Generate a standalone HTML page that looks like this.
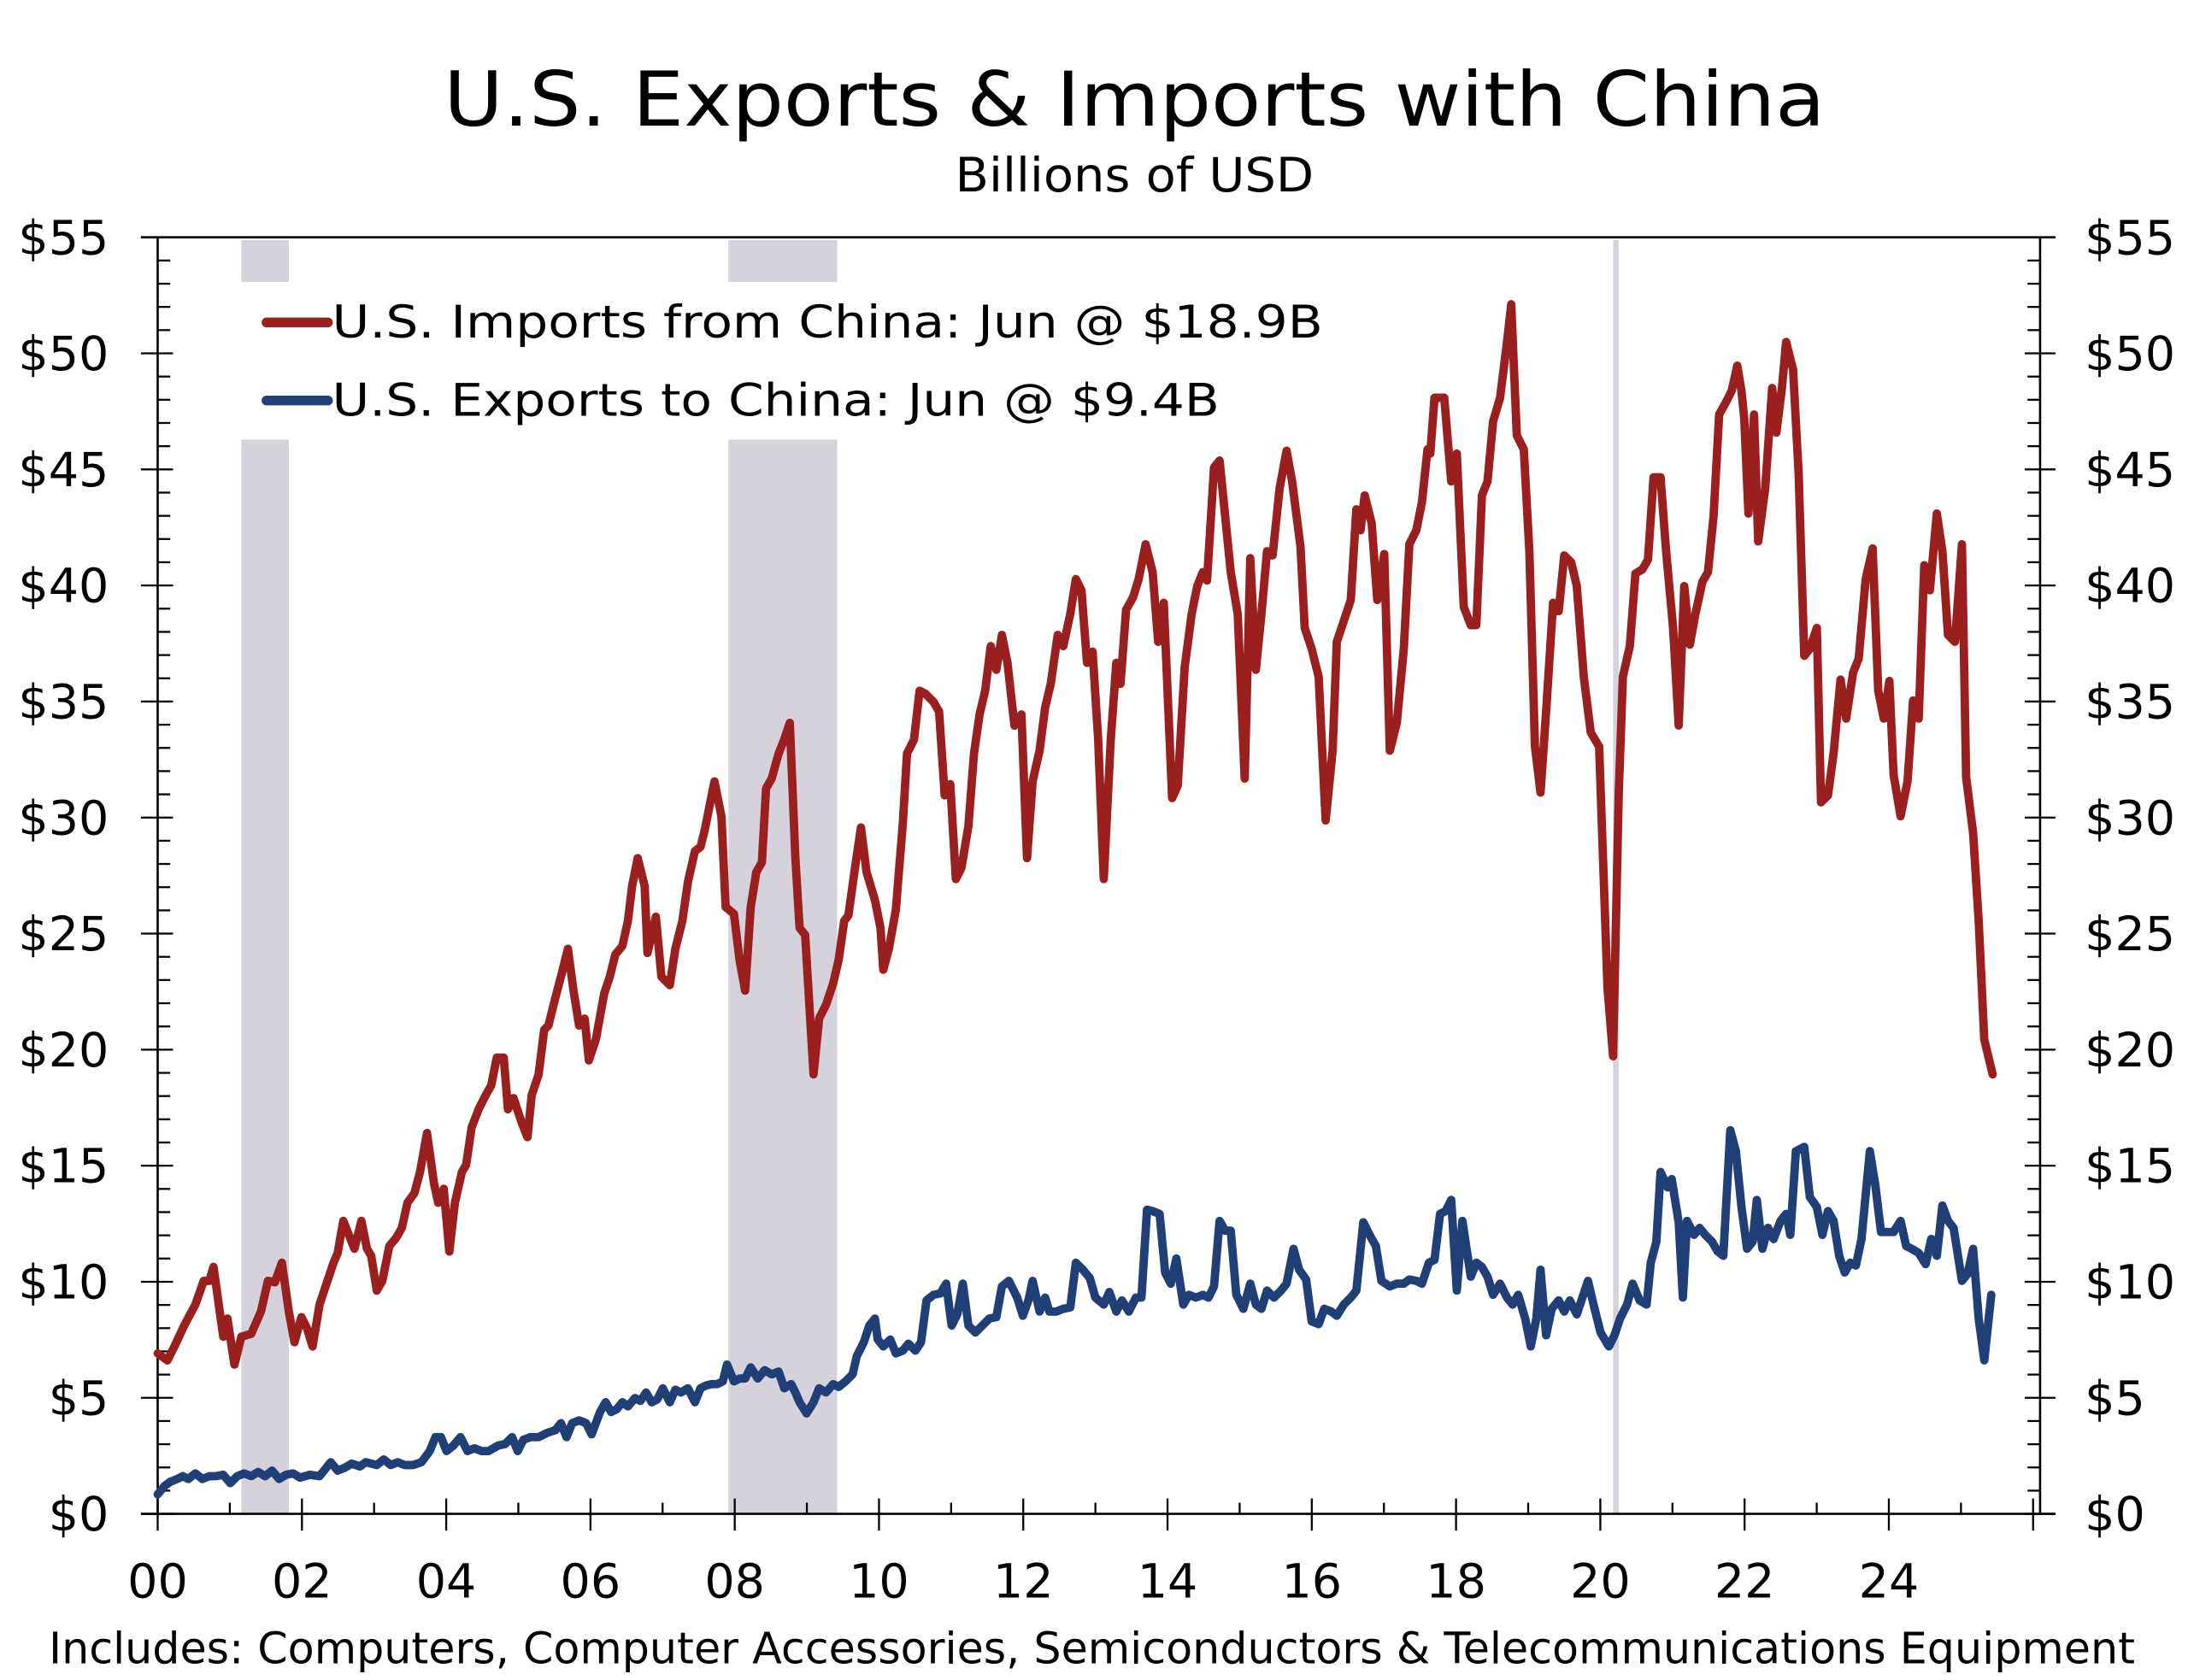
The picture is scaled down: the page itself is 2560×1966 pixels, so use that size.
<!DOCTYPE html>
<html><head><meta charset="utf-8"><style>html,body{margin:0;padding:0;background:#fff}svg{display:block}</style></head>
<body>
<svg width="2560" height="1966" viewBox="0 0 1568 1204" xmlns="http://www.w3.org/2000/svg" font-family="'DejaVu Sans','Liberation Sans',sans-serif">
<rect width="1568" height="1204" fill="#fff"/>
<g fill="#d6d2db">
<rect x="173" y="172" width="34" height="30"/>
<rect x="173" y="315" width="34" height="770"/>
<rect x="522" y="172" width="78" height="30"/>
<rect x="522" y="315" width="78" height="770"/>
<rect x="1156" y="172" width="4" height="913"/>
</g>
<g stroke="#000" stroke-width="1.6" fill="none">
<line x1="101" y1="170" x2="1473" y2="170"/>
<line x1="101" y1="1085" x2="1473" y2="1085"/>
<line x1="113" y1="170" x2="113" y2="1085"/>
<line x1="1462" y1="170" x2="1462" y2="1085"/>
</g>
<g id="ticks" stroke="#000" stroke-width="1.4"></g>
<g font-size="36" fill="#000">
<text x="813" y="90" font-size="54" text-anchor="middle" textLength="990" lengthAdjust="spacingAndGlyphs">U.S. Exports &amp; Imports with China</text>
<text x="813" y="137" font-size="34" text-anchor="middle" textLength="257" lengthAdjust="spacingAndGlyphs">Billions of USD</text>
<text x="35" y="1192" font-size="31" textLength="1495" lengthAdjust="spacingAndGlyphs">Includes: Computers, Computer Accessories, Semiconductors &amp; Telecommunications Equipment</text>
<text x="238" y="242" font-size="32" textLength="710" lengthAdjust="spacingAndGlyphs">U.S. Imports from China: Jun @ $18.9B</text>
<text x="238" y="298" font-size="32" textLength="636" lengthAdjust="spacingAndGlyphs">U.S. Exports to China: Jun @ $9.4B</text>
</g>
<line x1="191" y1="231" x2="235" y2="231" stroke="#9a1f1f" stroke-width="7" stroke-linecap="round"/>
<line x1="191" y1="287" x2="235" y2="287" stroke="#1f3f76" stroke-width="7" stroke-linecap="round"/>
<g id="ylab" font-size="34" fill="#000"></g>
<g id="xlab" font-size="34" fill="#000" text-anchor="middle"></g>
<polyline fill="none" stroke="#9a1f1f" stroke-width="6" stroke-linejoin="round" stroke-linecap="round" points="113,970 120,975 125,965 132,950 140,935 146,918 150,918 153,908 160,958 163,945 168,978 173,958 180,956 187,940 192,918 197,919 202,905 207,940 211,962 216,944 220,952 224,965 229,935 234,920 239,905 242,898 246,875 250,885 254,895 259,875 263,895 266,900 270,925 274,918 279,893 284,887 288,880 292,862 297,855 301,840 306,812 311,848 314,862 318,852 322,897 326,862 331,840 334,835 338,808 343,795 348,785 352,778 356,758 361,758 364,795 368,787 374,805 378,815 381,785 386,770 390,738 393,735 398,715 402,700 407,680 411,710 415,735 419,730 422,760 427,745 433,712 437,700 441,684 446,678 450,660 453,635 457,615 462,635 464,683 470,657 474,700 480,706 484,680 489,660 493,632 498,610 502,607 505,595 512,560 517,585 520,650 526,655 530,688 534,710 538,650 542,625 546,618 549,565 553,558 558,540 562,530 566,518 570,615 573,665 577,670 583,770 587,730 592,720 597,705 601,688 605,660 608,656 613,620 617,593 621,625 627,645 631,665 633,695 637,680 642,652 647,590 650,540 655,530 659,495 663,497 669,503 673,510 677,570 681,562 685,630 689,622 694,592 698,540 702,512 706,495 710,463 714,480 718,455 722,475 727,520 732,512 736,615 740,560 745,538 749,507 753,490 758,455 762,463 767,440 771,415 775,423 779,475 783,467 787,530 791,630 796,530 800,475 803,490 807,437 812,428 816,415 821,390 826,410 830,460 834,432 840,572 844,563 849,478 854,440 858,420 862,410 865,416 870,335 874,330 878,370 882,410 887,440 892,558 896,400 900,480 904,440 908,395 912,398 917,350 922,323 926,345 932,392 935,450 940,465 945,485 950,588 955,538 958,460 963,445 968,430 972,365 975,380 978,355 983,375 987,430 992,397 996,538 1001,518 1006,465 1010,390 1015,380 1019,360 1023,322 1025,325 1028,285 1035,285 1040,345 1044,325 1049,435 1054,448 1058,448 1062,355 1066,345 1070,302 1075,285 1080,245 1083,218 1087,312 1092,322 1096,395 1100,535 1104,568 1108,510 1113,432 1117,438 1121,398 1126,403 1130,420 1135,485 1140,525 1146,535 1152,708 1156,757 1160,570 1163,485 1168,463 1172,411 1177,408 1181,401 1185,342 1190,342 1194,395 1199,450 1203,520 1207,420 1211,462 1215,440 1220,417 1224,410 1228,370 1232,297 1237,288 1241,280 1245,262 1248,280 1250,300 1253,368 1257,297 1260,388 1265,350 1270,278 1273,310 1277,278 1280,245 1285,265 1289,340 1293,470 1297,465 1302,450 1305,575 1310,570 1314,540 1319,487 1323,515 1328,482 1332,472 1337,415 1342,393 1346,495 1350,515 1354,488 1357,555 1362,585 1367,560 1371,502 1375,515 1379,405 1383,423 1388,368 1392,395 1396,455 1401,460 1406,390 1409,557 1414,597 1418,660 1422,745 1428,770"/>
<polyline fill="none" stroke="#1f3f76" stroke-width="6" stroke-linejoin="round" stroke-linecap="round" points="113,1071 118,1065 122,1062 127,1060 131,1058 135,1060 140,1056 145,1060 150,1058 155,1058 160,1057 165,1063 170,1058 175,1056 180,1058 185,1055 190,1058 195,1054 200,1060 205,1057 210,1056 215,1059 222,1057 229,1058 233,1053 237,1048 242,1054 247,1052 252,1049 258,1051 262,1048 266,1049 270,1050 275,1046 280,1050 285,1048 290,1050 296,1050 302,1048 308,1040 312,1030 316,1030 320,1040 325,1036 330,1030 335,1040 340,1038 345,1040 350,1040 357,1036 362,1035 367,1030 371,1040 375,1032 380,1030 386,1030 392,1027 398,1025 402,1020 406,1030 410,1020 415,1018 420,1020 424,1028 430,1012 434,1005 438,1012 442,1010 446,1005 450,1008 455,1002 459,1004 463,998 467,1005 471,1003 475,995 480,1005 484,996 488,998 493,995 498,1005 502,995 506,993 510,992 514,992 518,990 521,978 526,990 530,988 534,988 538,980 543,988 548,982 553,985 558,983 562,995 567,992 570,998 573,1005 578,1013 583,1005 587,995 592,998 597,992 601,994 606,990 611,985 614,972 619,962 623,950 627,945 629,960 633,965 638,960 642,970 647,968 651,963 656,968 660,962 664,932 669,928 674,927 678,920 682,950 686,942 690,920 694,950 699,955 704,950 709,945 714,944 718,922 723,918 729,930 733,943 737,932 740,918 745,940 749,930 752,940 757,940 762,938 767,937 771,905 776,910 781,916 785,930 791,935 795,926 800,940 804,932 809,940 814,930 818,930 822,867 826,868 831,870 835,912 839,920 843,902 848,935 852,928 857,930 862,928 866,930 870,922 874,875 878,882 882,882 886,928 891,938 896,920 900,935 904,938 908,925 913,930 918,925 922,920 927,895 931,910 936,917 940,947 945,949 949,938 954,940 958,943 963,935 968,930 972,925 977,876 982,886 986,893 990,918 996,922 1001,920 1006,920 1010,917 1015,918 1019,920 1024,905 1028,903 1032,870 1036,868 1040,860 1044,925 1048,875 1054,915 1058,905 1062,908 1066,915 1070,928 1075,920 1080,930 1084,935 1088,928 1093,945 1097,965 1101,945 1104,910 1108,957 1112,938 1117,932 1121,940 1125,932 1130,942 1134,930 1138,918 1142,935 1147,955 1153,965 1157,957 1161,945 1166,935 1170,920 1175,932 1180,935 1183,905 1187,890 1190,840 1195,851 1198,845 1203,876 1206,930 1209,875 1214,885 1218,880 1222,885 1227,890 1231,897 1235,900 1240,810 1244,825 1248,865 1252,895 1256,890 1259,860 1263,895 1267,880 1271,888 1276,875 1280,870 1283,885 1287,825 1293,822 1297,858 1302,865 1306,885 1310,868 1314,875 1318,900 1322,912 1326,905 1330,907 1334,888 1340,825 1344,850 1348,883 1353,883 1357,883 1362,875 1366,893 1370,895 1375,898 1380,906 1384,888 1388,900 1392,864 1396,875 1400,880 1406,918 1410,913 1414,895 1418,945 1422,975 1427,928"/>
<script>
(function(){
var NS="http://www.w3.org/2000/svg";
var t=document.getElementById("ticks"),yl=document.getElementById("ylab"),xl=document.getElementById("xlab");
function ln(x1,y1,x2,y2){var l=document.createElementNS(NS,"line");l.setAttribute("x1",x1);l.setAttribute("y1",y1);l.setAttribute("x2",x2);l.setAttribute("y2",y2);t.appendChild(l);}
function tx(g,x,y,s,a){var e=document.createElementNS(NS,"text");e.setAttribute("x",x);e.setAttribute("y",y);if(a)e.setAttribute("text-anchor",a);e.textContent=s;g.appendChild(e);}
for(var v=0;v<=55;v++){var y=1085-v*915/55;
 if(v%5==0){ln(101,y,124,y);ln(1451,y,1473,y);
  tx(yl,78,y+12,"$"+v,"end");tx(yl,1494,y+12,"$"+v,"start");}
 else{ln(113,y,122,y);ln(1453,y,1462,y);}}
for(var k=0;k<=26;k++){var x=113+k*1344/26;
 if(k%2==0){ln(x,1074,x,1097);if(k<=24)tx(xl,x,1145,(k<10?"0":"")+k);}
 else ln(x,1077,x,1085);}
})();
</script>
</svg>
</body></html>
